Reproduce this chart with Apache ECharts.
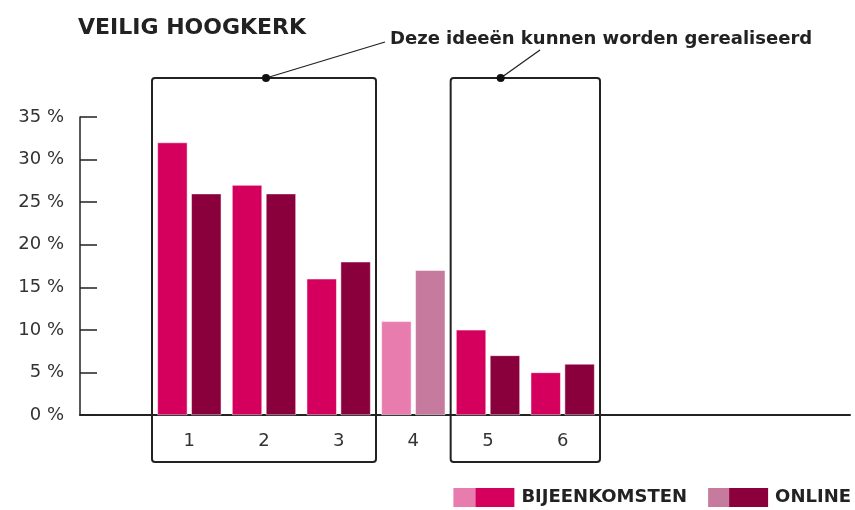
<!DOCTYPE html>
<html>
<head>
<meta charset="utf-8">
<script src="https://cdn.jsdelivr.net/npm/echarts@6/dist/echarts.min.js"></script>
<style>
  html, body { margin: 0; padding: 0; background: #fff; }
  #chart { width: 855px; height: 510px; }
</style>
</head>
<body>
<div id="chart"></div>
<script>
// data
const categories = ['1', '2', '3', '4', '5', '6'];
const bijeenkomsten = [32, 27, 16, 11, 10, 5];
const online = [26, 26, 18, 17, 7, 6];
const yTickLabels = ['0 %', '5 %', '10 %', '15 %', '20 %', '25 %', '30 %', '35 %'];
const realisableGroups = [['1', '3'], ['5', '6']];
const mutedCategory = '4';

const titleText = 'VEILIG HOOGKERK';
const noteText = 'Deze ideeën kunnen worden gerealiseerd';

const ink = '#222';
const colBij = '#d5005e';
const colBijLight = '#e97cae';
const colOnl = '#8a003c';
const colOnlLight = '#c67b9e';
const font = 'DejaVu Sans';

const chart = echarts.init(document.getElementById('chart'));

function barData(values, light) {
  return values.map((v, i) => {
    if (categories[i] === mutedCategory) {
      return { value: v, itemStyle: { color: light } };
    }
    return v;
  });
}

const option = {
  animation: false,
  textStyle: { fontFamily: font },
  grid: [
    // full-width frame: y axis + long baseline
    { left: 80, right: 5, top: 117, bottom: 95 },
    // bars
    { left: 152, width: 448, top: 117, bottom: 95 }
  ],
  xAxis: [
    {
      gridIndex: 0, type: 'value', min: 0, max: 1,
      axisLine: { show: true, lineStyle: { color: ink, width: 2 } },
      axisTick: { show: false }, axisLabel: { show: false }, splitLine: { show: false }
    },
    {
      gridIndex: 1, type: 'category', data: categories,
      axisLine: { show: false }, axisTick: { show: false },
      axisLabel: { margin: 17, color: '#333', fontSize: 18, fontFamily: font }
    }
  ],
  yAxis: [
    {
      gridIndex: 0, type: 'value', min: 0, max: 35, interval: 5,
      axisLine: { show: true, lineStyle: { color: ink, width: 1.5 } },
      axisTick: { show: true, inside: true, length: 17, lineStyle: { color: ink, width: 1.5 } },
      splitLine: { show: false },
      axisLabel: {
        margin: 16, color: '#333', fontSize: 18, fontFamily: font,
        formatter: (v) => yTickLabels[v / 5]
      }
    },
    {
      gridIndex: 1, type: 'value', min: 0, max: 35, show: false
    }
  ],
  legend: {
    right: 4, top: 488,
    padding: 0,
    icon: 'none', itemWidth: 0, itemHeight: 0, itemGap: 16,
    selectedMode: false,
    data: ['BIJEENKOMSTEN', 'ONLINE'],
    formatter: (name) => name === 'ONLINE'
      ? '{lb|}{db|}{t|' + name + '}'
      : '{la|}{da|}{t|' + name + '}',
    textStyle: {
      rich: {
        la: { width: 22, height: 19, backgroundColor: colBijLight },
        da: { width: 39, height: 19, backgroundColor: colBij },
        lb: { width: 21, height: 19, backgroundColor: colOnlLight },
        db: { width: 39, height: 19, backgroundColor: colOnl },
        t: { fontSize: 18, fontWeight: 'bold', color: '#222', fontFamily: font, padding: [0, 0, 0, 7] }
      }
    }
  },
  series: [
    {
      name: 'BIJEENKOMSTEN', type: 'bar', xAxisIndex: 1, yAxisIndex: 1,
      barWidth: 30, barGap: '13%',
      itemStyle: { color: colBij, borderColor: '#fff', borderWidth: 0.5 },
      data: barData(bijeenkomsten, colBijLight)
    },
    {
      name: 'ONLINE', type: 'bar', xAxisIndex: 1, yAxisIndex: 1,
      barWidth: 30,
      itemStyle: { color: colOnl, borderColor: '#fff', borderWidth: 0.5 },
      data: barData(online, colOnlLight)
    }
  ]
};

chart.setOption(option);

// boxes around the categories that can be realised, plus the note
function drawNotes() {
  const px = (c) => chart.convertToPixel({ xAxisIndex: 1 }, c);
  const band = px(categories[1]) - px(categories[0]);
  const boxTop = 78, boxBottom = 462;
  const boxes = realisableGroups.map(([a, b]) => ({
    x0: px(a) - band / 2,
    x1: px(b) + band / 2
  }));

  const elements = [
    {
      type: 'text', left: 78, top: 17,
      style: { text: titleText, fontFamily: font, fontSize: 22, fontWeight: 'bold', fill: '#222' }
    },
    {
      type: 'text', x: 390, y: 39,
      style: { text: noteText, fontFamily: font, fontSize: 18, fontWeight: 'bold', fill: '#222', verticalAlign: 'middle' }
    }
  ];

  boxes.forEach((b, i) => {
    elements.push({
      type: 'rect', z: 10,
      shape: { x: b.x0, y: boxTop, width: b.x1 - b.x0, height: boxBottom - boxTop, r: 3 },
      style: { fill: 'none', stroke: ink, lineWidth: 2 }
    });
    const dotX = i === 0 ? (b.x0 + b.x1) / 2 + 2 : b.x0 + 50;
    const end = i === 0 ? [385, 42] : [540, 50];
    elements.push({
      type: 'line', z: 10,
      shape: { x1: dotX, y1: boxTop, x2: end[0], y2: end[1] },
      style: { stroke: ink, lineWidth: 1.3 }
    });
    elements.push({
      type: 'circle', z: 11,
      shape: { cx: dotX, cy: boxTop, r: 4 },
      style: { fill: '#111' }
    });
  });

  chart.setOption({ graphic: elements });
}

drawNotes();
</script>
</body>
</html>
